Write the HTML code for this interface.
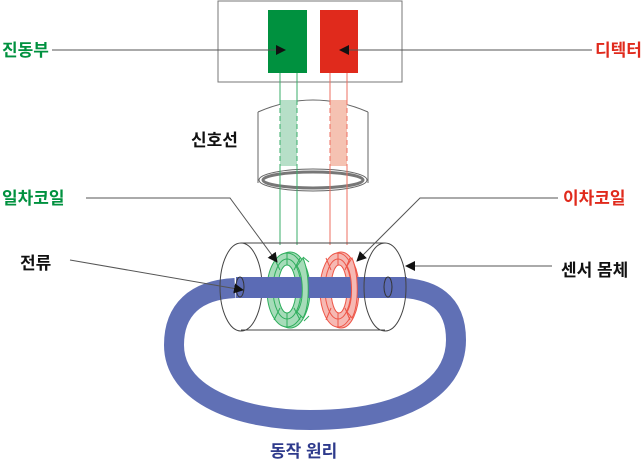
<!DOCTYPE html>
<html><head><meta charset="utf-8"><style>
html,body{margin:0;padding:0;background:#fff;}
svg text{font-family:"Liberation Sans","Noto Sans CJK KR",sans-serif;font-weight:bold;font-size:17px;}
</style></head><body>
<svg width="643" height="463" viewBox="0 0 643 463" xmlns="http://www.w3.org/2000/svg">
<defs>
<marker id="ah" markerWidth="10" markerHeight="10" refX="9" refY="5" orient="auto" markerUnits="userSpaceOnUse">
<path d="M0,0 L10,5 L0,10 z" fill="#111"/></marker>
</defs>
<!-- top box -->
<rect x="218" y="1" width="184" height="81" fill="#fff" stroke="#777" stroke-width="1"/>
<rect x="268" y="10" width="39" height="63" fill="#00913f"/>
<rect x="320" y="10" width="38" height="63" fill="#e02a1c"/>
<!-- signal cylinder -->
<path d="M258,112 L258,183 M368,112 L368,183" stroke="#666" fill="none"/>
<path d="M258,112 Q313,88 368,112" stroke="#666" fill="none"/>
<rect x="280" y="100" width="17" height="66" fill="#b7dfc8"/>
<rect x="330" y="100" width="17" height="66" fill="#f5c2b2"/>
<ellipse cx="313" cy="180" rx="54" ry="11" fill="#fff" stroke="#666" stroke-width="1"/>
<ellipse cx="313" cy="180" rx="50" ry="8" fill="#fff" stroke="#777" stroke-width="3"/>
<!-- wires -->
<path d="M280,73 V100 M297,73 V100 M280,166 V245 M297,166 V245" stroke="#3aae6a" fill="none"/>
<path d="M280,100 V166 M297,100 V166" stroke="#3aae6a" stroke-dasharray="5,3" fill="none"/>
<path d="M330,73 V100 M347,73 V100 M330,166 V245 M347,166 V245" stroke="#ee6f60" fill="none"/>
<path d="M330,100 V166 M347,100 V166" stroke="#ee6f60" stroke-dasharray="5,3" fill="none"/>
<!-- loop -->
<path d="M235,288 C195,290 174,310 174,345 C174,395 240,420 310,420 C400,420 456,390 456,340 C456,300 430,290 405,288" fill="none" stroke="#6070b5" stroke-width="20"/>
<!-- sensor body -->
<line x1="241" y1="243" x2="385" y2="243" stroke="#444"/>
<line x1="241" y1="330" x2="385" y2="330" stroke="#444"/>
<ellipse cx="241" cy="287" rx="21" ry="44" fill="none" stroke="#444"/>
<!-- green coil -->
<g stroke="#2fae5d" fill="none">
<ellipse cx="290" cy="290" rx="20" ry="38" fill="#a6dcb9"/>
<ellipse cx="287" cy="290" rx="20" ry="37" fill="#a6dcb9"/>
<ellipse cx="287" cy="289" rx="9" ry="24" fill="#fff"/>
<ellipse cx="287" cy="289" rx="14" ry="30"/>
<path d="M287,253 V265 M300,258 L294,270 M307,289 H296 M300,320 L294,308 M287,327 V313 M274,320 L280,308 M267,289 H278 M274,258 L280,270 M303,257 L309,262 M309,290 L305,290 M304,321 L309,316"/>
</g>
<rect x="236" y="277" width="58" height="21" fill="#5b6bb5"/>
<!-- red coil -->
<g stroke="#ee5648" fill="none">
<ellipse cx="341" cy="290" rx="18" ry="38" fill="#f6b9b3"/>
<ellipse cx="338" cy="290" rx="18" ry="37" fill="#f6b9b3"/>
<ellipse cx="339" cy="289" rx="8" ry="24" fill="#fff"/>
<ellipse cx="338" cy="289" rx="13" ry="30"/>
<path d="M338,253 V265 M350,258 L345,270 M356,289 H347 M350,320 L345,308 M338,327 V313 M326,320 L331,308 M320,289 H330 M326,258 L331,270"/>
</g>
<rect x="294" y="277" width="51" height="21" fill="#5b6bb5"/>
<rect x="307" y="277" width="0" height="0"/>
<rect x="345" y="277" width="62" height="21" fill="#5b6bb5"/>
<!-- redraw right crescents of coils in front -->
<path d="M297,266 C303,275 305,300 297,312 L303,318 C310,305 310,275 303,258 Z" fill="#a6dcb9" stroke="#2fae5d"/>
<path d="M347,266 C352,275 354,300 347,312 L352,318 C359,305 359,275 352,258 Z" fill="#f6b9b3" stroke="#ee5648"/>
<ellipse cx="240" cy="287" rx="4" ry="10" fill="none" stroke="#333"/>
<ellipse cx="388" cy="287" rx="4" ry="10" fill="none" stroke="#333"/>
<ellipse cx="385" cy="287" rx="21" ry="44" fill="none" stroke="#444"/>
<!-- leaders -->
<g stroke="#555" fill="none" stroke-width="1">
<line x1="52" y1="50" x2="285" y2="50" marker-end="url(#ah)"/>
<line x1="592" y1="50" x2="340" y2="50" marker-end="url(#ah)"/>
<polyline points="86,198 230,198 277,262" marker-end="url(#ah)"/>
<polyline points="558,198 420,198 357,261" marker-end="url(#ah)"/>
<line x1="70" y1="260" x2="243" y2="290" marker-end="url(#ah)"/>
<line x1="552" y1="266" x2="406" y2="266" marker-end="url(#ah)"/>
</g>
<!-- labels -->
<text x="2" y="56" fill="#00913f">진동부</text>
<text x="595" y="56" fill="#e02a1c">디텍터</text>
<text x="191" y="146" fill="#111">신호선</text>
<text x="2" y="204" fill="#00913f">일차코일</text>
<text x="563" y="204" fill="#e02a1c">이차코일</text>
<text x="20" y="269" fill="#111">전류</text>
<text x="561" y="276" fill="#111">센서 몸체</text>
<text x="270" y="457" fill="#2e3a8c">동작 원리</text>
</svg>
</body></html>
